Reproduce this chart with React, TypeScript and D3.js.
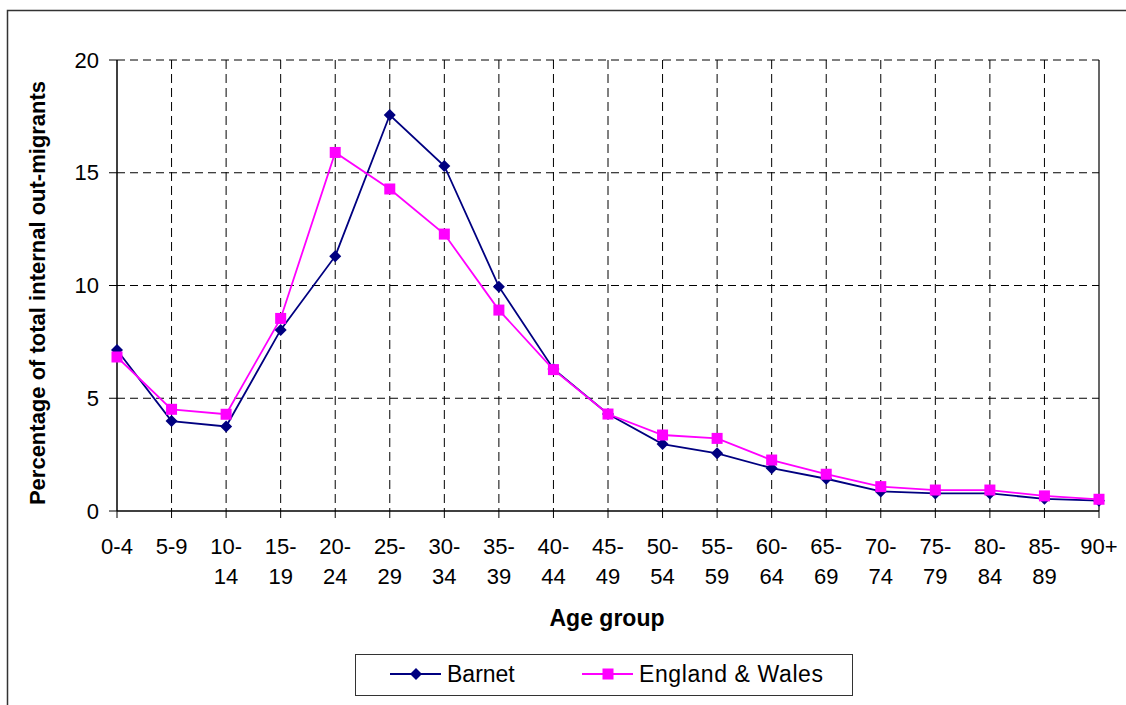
import React from "react";
import * as d3 from "d3";

const categories = ["0-4","5-9","10-14","15-19","20-24","25-29","30-34","35-39","40-44","45-49","50-54","55-59","60-64","65-69","70-74","75-79","80-84","85-89","90+"];
const barnet = [7.14,3.99,3.75,8.03,11.3,17.56,15.3,9.95,6.3,4.3,2.97,2.56,1.9,1.43,0.87,0.78,0.78,0.54,0.46];
const englandWales = [6.83,4.51,4.29,8.54,15.9,14.28,12.28,8.91,6.27,4.3,3.37,3.22,2.26,1.63,1.08,0.93,0.93,0.67,0.52];
const yTicks = [0,5,10,15,20];

const W = 1126, H = 705;
const L = 117, R = 1099, T = 60, B = 511;
const FONT = "'Liberation Sans', Arial, sans-serif";

export default function App() {
  const x = d3.scalePoint<string>().domain(categories).range([L, R]);
  const y = d3.scaleLinear().domain([0, 20]).range([B, T]);
  const line = d3.line<number>().x((_, i) => x(categories[i])!).y(d => y(d));
  const diamond = (cx: number, cy: number, r = 6) => `M${cx},${cy - r}L${cx + r},${cy}L${cx},${cy + r}L${cx - r},${cy}Z`;
  const sq = 5.5;
  return (
    <svg width={W} height={H} style={{ position: "absolute", left: 0, top: 0 }} fontFamily={FONT}>
      <rect x={0} y={0} width={W} height={H} fill="#fff" />
      <rect x={7.5} y={10.5} width={W + 20} height={H + 20} fill="none" stroke="#333" strokeWidth={1.5} />
      {/* gridlines */}
      {yTicks.filter(t => t > 0).map(t => (
        <line key={"gy" + t} x1={L} x2={R} y1={y(t)} y2={y(t)} stroke="#000" strokeWidth={1} strokeDasharray="8,5" />
      ))}
      {categories.slice(1, -1).map(c => (
        <line key={"gx" + c} x1={x(c)} x2={x(c)} y1={T} y2={B} stroke="#000" strokeWidth={1} strokeDasharray="9,5" />
      ))}
      {/* axes */}
      <line x1={R} x2={R} y1={T} y2={B} stroke="#000" strokeWidth={1.2} />
      <line x1={L} x2={L} y1={T} y2={B} stroke="#000" strokeWidth={1.5} />
      <line x1={L} x2={R} y1={B} y2={B} stroke="#000" strokeWidth={1.5} />
      {yTicks.map(t => (
        <g key={"yt" + t}>
          <line x1={L - 8} x2={L} y1={y(t)} y2={y(t)} stroke="#000" strokeWidth={1} />
          <text x={L - 18} y={y(t)} dy="0.35em" textAnchor="end" fontSize={22}>{t}</text>
        </g>
      ))}
      {categories.map(c => {
        const parts = c.includes("-") && c.length > 4 ? [c.split("-")[0] + "-", c.split("-")[1]] : [c];
        return (
          <g key={"xt" + c}>
            <line x1={x(c)} x2={x(c)} y1={B} y2={B + 7} stroke="#000" strokeWidth={1} />
            {parts.map((p, i) => (
              <text key={i} x={x(c)} y={546 + i * 30} dy="0.35em" textAnchor="middle" fontSize={22}>{p}</text>
            ))}
          </g>
        );
      })}
      {/* titles */}
      <text x={607} y={618} dy="0.35em" textAnchor="middle" fontSize={23} fontWeight="bold">Age group</text>
      <text transform={`translate(37,293) rotate(-90)`} dy="0.35em" textAnchor="middle" fontSize={22} fontWeight="bold">Percentage of total internal out-migrants</text>
      {/* series */}
      <path d={line(barnet)!} fill="none" stroke="#000080" strokeWidth={1.8} />
      <path d={line(englandWales)!} fill="none" stroke="#FF00FF" strokeWidth={1.8} />
      {barnet.map((v, i) => (
        <path key={"b" + i} d={diamond(x(categories[i])!, y(v))} fill="#000080" />
      ))}
      {englandWales.map((v, i) => (
        <rect key={"e" + i} x={x(categories[i])! - sq} y={y(v) - sq} width={sq * 2} height={sq * 2} fill="#FF00FF" />
      ))}
      {/* legend */}
      <rect x={355.5} y={654.5} width={497} height={41} fill="#fff" stroke="#333" strokeWidth={1} />
      <line x1={390} x2={441} y1={674} y2={674} stroke="#000080" strokeWidth={1.8} />
      <path d={diamond(416, 674)} fill="#000080" />
      <text x={447} y={674} dy="0.35em" fontSize={23}>Barnet</text>
      <line x1={582} x2={633} y1={674} y2={674} stroke="#FF00FF" strokeWidth={1.8} />
      <rect x={608 - sq} y={674 - sq} width={sq * 2} height={sq * 2} fill="#FF00FF" />
      <text x={639} y={674} dy="0.35em" fontSize={23} textLength={184}>England &amp; Wales</text>
    </svg>
  );
}
